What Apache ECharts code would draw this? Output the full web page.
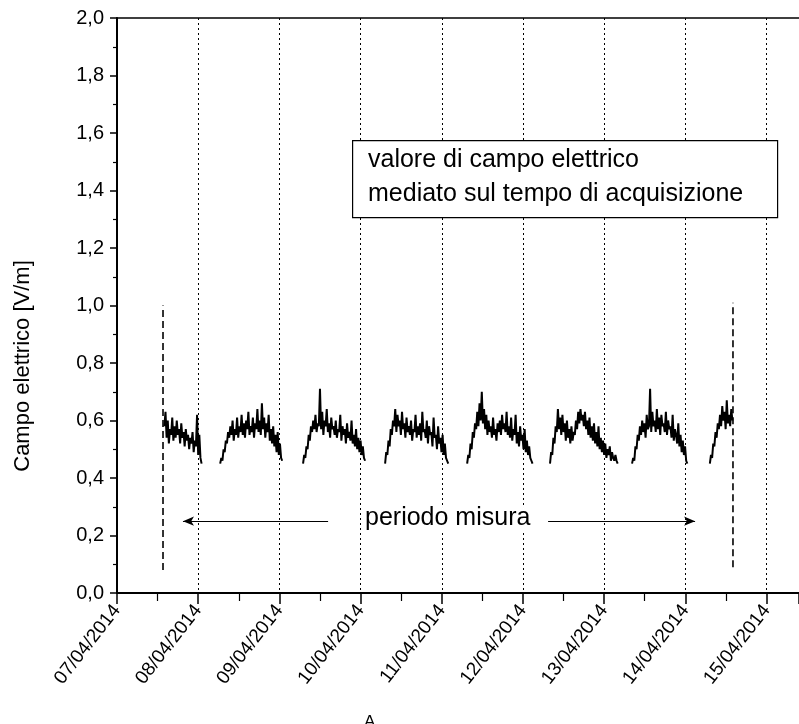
<!DOCTYPE html>
<html>
<head>
<meta charset="utf-8">
<script src="https://cdn.jsdelivr.net/npm/echarts@6/dist/echarts.min.js"></script>
<style>
html,body{margin:0;padding:0;background:#fff;}
#c{width:799px;height:724px;}
</style>
</head>
<body>
<div id="c"></div>
<script>
// ---- data ----
const dayLabels = ['07/04/2014','08/04/2014','09/04/2014','10/04/2014','11/04/2014','12/04/2014','13/04/2014','14/04/2014','15/04/2014'];
const yTickValues = [0,0.2,0.4,0.6,0.8,1.0,1.2,1.4,1.6,1.8,2.0];
const stepMinutes = 20;
const segStarts = ['07/04/2014 14:00','08/04/2014 06:30','09/04/2014 07:00','10/04/2014 07:15','11/04/2014 07:30','12/04/2014 08:00','13/04/2014 08:15','14/04/2014 07:15'];
const seg1 = [0.58,0.63,0.54,0.60,0.52,0.57,0.55,0.61,0.53,0.58,0.54,0.60,0.55,0.57,0.52,0.59,0.54,0.56,0.51,0.57,0.53,0.55,0.50,0.54,0.52,0.56,0.49,0.53,0.51,0.62,0.48,0.55,0.47,0.45];
const seg2 = [0.45,0.47,0.46,0.50,0.49,0.53,0.52,0.56,0.54,0.58,0.55,0.60,0.53,0.57,0.55,0.61,0.54,0.58,0.56,0.62,0.55,0.59,0.54,0.60,0.57,0.63,0.55,0.58,0.56,0.61,0.54,0.59,0.57,0.64,0.56,0.60,0.55,0.66,0.57,0.61,0.54,0.59,0.56,0.62,0.53,0.57,0.52,0.58,0.51,0.55,0.49,0.56,0.48,0.52,0.47,0.46];
const seg3 = [0.45,0.48,0.47,0.51,0.50,0.55,0.53,0.58,0.56,0.60,0.57,0.62,0.56,0.59,0.58,0.71,0.57,0.63,0.55,0.60,0.58,0.64,0.56,0.59,0.54,0.61,0.57,0.58,0.55,0.60,0.54,0.57,0.56,0.62,0.53,0.58,0.55,0.57,0.52,0.59,0.54,0.56,0.53,0.60,0.52,0.55,0.51,0.57,0.50,0.54,0.49,0.53,0.48,0.51,0.47,0.46];
const seg4 = [0.45,0.49,0.48,0.53,0.51,0.57,0.55,0.60,0.58,0.64,0.56,0.62,0.58,0.60,0.55,0.63,0.57,0.59,0.54,0.61,0.56,0.58,0.55,0.60,0.53,0.57,0.56,0.62,0.54,0.58,0.55,0.59,0.53,0.63,0.56,0.57,0.54,0.60,0.52,0.58,0.55,0.56,0.51,0.61,0.54,0.55,0.50,0.58,0.52,0.54,0.49,0.55,0.48,0.52,0.47,0.46,0.45];
const seg5 = [0.45,0.48,0.47,0.52,0.50,0.56,0.54,0.59,0.57,0.63,0.58,0.66,0.60,0.70,0.59,0.64,0.57,0.62,0.55,0.60,0.56,0.58,0.54,0.61,0.55,0.57,0.53,0.59,0.56,0.60,0.55,0.62,0.57,0.59,0.56,0.63,0.55,0.58,0.54,0.61,0.53,0.57,0.55,0.62,0.52,0.56,0.51,0.58,0.53,0.55,0.50,0.57,0.49,0.53,0.48,0.51,0.47,0.46,0.45];
const seg6 = [0.45,0.49,0.48,0.54,0.52,0.58,0.56,0.64,0.57,0.61,0.55,0.62,0.56,0.59,0.53,0.60,0.54,0.57,0.52,0.58,0.53,0.56,0.55,0.60,0.57,0.63,0.59,0.64,0.60,0.62,0.58,0.63,0.57,0.60,0.55,0.61,0.54,0.58,0.53,0.59,0.52,0.56,0.51,0.58,0.50,0.54,0.49,0.53,0.48,0.52,0.47,0.50,0.48,0.51,0.46,0.49,0.47,0.46,0.48,0.46,0.45];
const seg7 = [0.45,0.47,0.46,0.51,0.50,0.55,0.53,0.58,0.55,0.60,0.56,0.59,0.54,0.62,0.57,0.58,0.71,0.56,0.63,0.58,0.60,0.56,0.64,0.57,0.61,0.55,0.62,0.58,0.59,0.56,0.63,0.55,0.60,0.57,0.58,0.54,0.62,0.53,0.57,0.55,0.52,0.59,0.51,0.55,0.49,0.53,0.48,0.51,0.46,0.45];
const seg8 = [0.45,0.48,0.47,0.52,0.51,0.56,0.54,0.59,0.57,0.62,0.58,0.65,0.60,0.63,0.57,0.67,0.59,0.62,0.58,0.64,0.60];
const segments = [seg1,seg2,seg3,seg4,seg5,seg6,seg7,seg8];
const markerTimes = ['07/04/2014 13:36','14/04/2014 14:05'];
const markerLow = [0.08,0.09];
const markerHigh = [1.00,1.01];
const arrowY = 0.25;
const arrowLeft = ['09/04/2014 14:24','07/04/2014 19:30'];
const arrowRight = ['12/04/2014 07:26','14/04/2014 02:53'];
const periodLabel = 'periodo misura';
const boxLines = ['valore di campo elettrico','mediato sul tempo di acquisizione'];
const yName = 'Campo elettrico [V/m]';

// ---- helpers ----
function toDays(s){
  const [d,t] = s.split(' ');
  const [dd,mm,yy] = d.split('/').map(Number);
  const [hh,mi] = (t||'00:00').split(':').map(Number);
  const ms = Date.UTC(yy,mm-1,dd,hh,mi) - Date.UTC(2014,3,7,0,0);
  return ms/86400000;
}
const FONT = 'Liberation Sans, Arial, Helvetica, sans-serif';

const series = segments.map((vals,i)=>{
  const x0 = toDays(segStarts[i]);
  return {
    type:'line', symbol:'none', silent:true, animation:false,
    lineStyle:{color:'#000', width:2},
    data: vals.map((v,k)=>[x0 + k*stepMinutes/1440, v])
  };
});
markerTimes.forEach((t,i)=>{
  const x = toDays(t);
  series.push({
    type:'line', symbol:'none', silent:true, animation:false,
    lineStyle:{color:'#000', width:1.6, type:[7,4]},
    data:[[x,markerLow[i]],[x,markerHigh[i]]]
  });
});
series.push({
  type:'line', symbol:'none', silent:true, animation:false, data:[],
  markLine:{
    silent:true, animation:false,
    symbol:['none','arrow'], symbolSize:[7,11],
    label:{show:false},
    lineStyle:{color:'#000', width:1, type:'solid'},
    data:[
      [{coord:[toDays(arrowLeft[0]),arrowY]},{coord:[toDays(arrowLeft[1]),arrowY]}],
      [{coord:[toDays(arrowRight[0]),arrowY]},{coord:[toDays(arrowRight[1]),arrowY]}]
    ]
  }
});

const chart = echarts.init(document.getElementById('c'), null, {renderer:'canvas'});
const option = {
  backgroundColor:'#fff',
  animation:false,
  grid:{left:117, right:0, top:18, bottom:131, containLabel:false},
  xAxis:[{
    type:'value', min:0, max:8.4, interval:1,
    axisLine:{show:true, onZero:false, lineStyle:{color:'#000', width:2}},
    axisTick:{show:true, length:11, lineStyle:{color:'#000', width:1.5}},
    minorTick:{show:true, splitNumber:2, length:8, lineStyle:{color:'#000', width:1.2}},
    splitLine:{show:true, lineStyle:{color:'#000', width:1, type:[2,3]}},
    axisLabel:{
      rotate:52, margin:14, fontFamily:FONT, fontSize:19, color:'#000', showMaxLabel:false,
      formatter:v=>{const r=Math.round(v); return Math.abs(v-r)<1e-6 && dayLabels[r] ? dayLabels[r] : '';}
    }
  },{
    type:'value', position:'top', min:0, max:8.4,
    axisLine:{show:true, onZero:false, lineStyle:{color:'#000', width:1.5}},
    axisTick:{show:false}, axisLabel:{show:false}, splitLine:{show:false}
  }],
  yAxis:{
    type:'value', min:0, max:2, interval:0.2,
    axisLine:{show:true, onZero:false, lineStyle:{color:'#000', width:2}},
    axisTick:{show:true, length:7, lineStyle:{color:'#000', width:1.5}},
    minorTick:{show:true, splitNumber:2, length:4, lineStyle:{color:'#000', width:1.2}},
    splitLine:{show:false},
    axisLabel:{margin:13, fontFamily:FONT, fontSize:20, color:'#000',
      formatter:v=>{const m=yTickValues.find(t=>Math.abs(t-v)<1e-6); return m===undefined?'':m.toFixed(1).replace('.',',');}}
  },
  series:series,
  graphic:[
    {type:'text', x:23, y:366, rotation:Math.PI/2, style:{text:yName, font:'22px '+FONT, fill:'#000', align:'center', verticalAlign:'middle'}, z:11},
    {type:'rect', left:352, top:140, shape:{width:425, height:77}, style:{fill:'#fff', stroke:'#000', lineWidth:1.2}, z:10},
    {type:'text', left:368, top:148, style:{text:boxLines[0], font:'25px '+FONT, fill:'#000'}, z:11},
    {type:'text', left:368, top:182, style:{text:boxLines[1], font:'25px '+FONT, fill:'#000'}, z:11},
    {type:'text', left:365, top:506, style:{text:periodLabel, font:'25px '+FONT, fill:'#000', backgroundColor:'#fff'}, z:11},
    {type:'text', left:364, top:714, style:{text:'A', font:'17px '+FONT, fill:'#000'}, z:11}
  ]
};
chart.setOption(option);
</script>
</body>
</html>
